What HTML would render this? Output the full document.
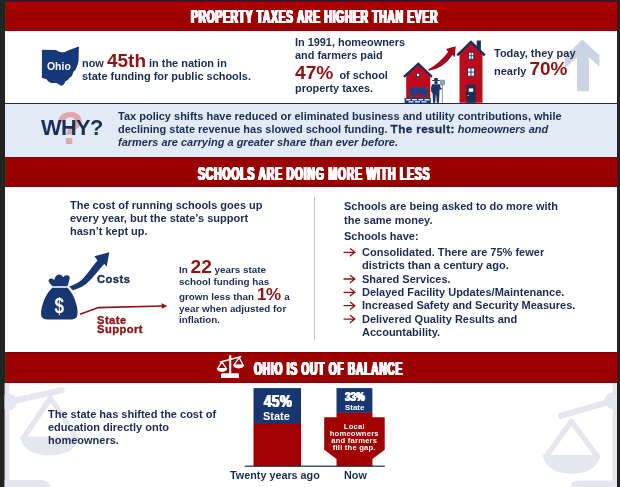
<!DOCTYPE html>
<html>
<head>
<meta charset="utf-8">
<title>Property Taxes</title>
<style>
*{margin:0;padding:0;box-sizing:border-box;}
html,body{width:620px;height:487px;overflow:hidden;background:#232323;}
body{font-family:"Liberation Sans",sans-serif;font-weight:bold;color:#1a2c52;position:relative;}
#panel{position:absolute;left:4.7px;top:1.8px;width:612.3px;height:485px;background:#fff;}
.abs{position:absolute;will-change:transform;}
.banner{position:absolute;left:4.7px;width:612.3px;background:linear-gradient(#a80000,#9a0000);}
.h{position:absolute;will-change:transform;white-space:nowrap;color:#fff;font-weight:bold;transform-origin:0 0;line-height:22px;letter-spacing:1.3px;
   text-shadow:0.5px 0 0 #fff,-0.5px 0 0 #fff,1px 0 0 #fff,-1px 0 0 #fff,1.5px 0 0 #fff,-1.5px 0 0 #fff;}
.h2{position:absolute;will-change:transform;white-space:nowrap;color:#fff;font-weight:bold;transform-origin:0 0;line-height:20px;letter-spacing:0.6px;
   text-shadow:0.4px 0 0 #fff,-0.4px 0 0 #fff,0.7px 0 0 #fff,-0.7px 0 0 #fff;}
.t{position:absolute;will-change:transform;white-space:nowrap;font-size:11px;line-height:13.4px;}
.red{color:#8c1414;}
.big{font-size:19px;}
.blk{letter-spacing:0.3px;-webkit-text-stroke:0.35px currentColor;}
</style>
</head>
<body>
<div id="panel"></div>
<svg class="abs" id="wm" style="left:0;top:0;" width="620" height="487" viewBox="0 0 620 487">
  <g fill="#e6e7ee" stroke="none">
    <!-- right pillar + base -->
    <rect x="612.6" y="383" width="4.2" height="104"/>
    <path d="M570 487 Q571.5 480.8 578 480.6 L616.8 480.6 L616.8 487 Z"/>
    <!-- left pillar + base -->
    <rect x="4.6" y="383" width="4.6" height="104"/>
    <path d="M4.6 480 L42 480 Q49 480.5 51 487 L4.6 487 Z"/>
  </g>
  <clipPath id="cp"><rect x="4.6" y="383" width="612.2" height="104"/></clipPath>
  <g clip-path="url(#cp)">
    <g stroke="#e6e7ee" fill="none" stroke-linecap="round" stroke-linejoin="round">
      <!-- right -->
      <path stroke-width="6.2" d="M561 415.8 L611 401.2"/>
      <path stroke-width="5.4" d="M571.5 421.2 L546 456.5 M571.5 421.5 L597.5 456.5"/>
      <!-- left -->
      <path stroke-width="6.2" d="M8.5 402 L61.5 390.2"/>
      <path stroke-width="5.4" d="M50.5 398 L23 438.5 M50.5 398 L77 438.5"/>
    </g>
    <g fill="#e6e7ee">
      <circle cx="612.5" cy="400.8" r="8.2"/>
      <path d="M542.5 455 L600.5 455 Q598 466 588 471 Q571.5 477 555 471 Q545 466 542.5 455 Z"/>
      <circle cx="8.5" cy="402" r="8.6"/>
      <path d="M20 436.5 L79 436.5 Q76.5 447.5 66.5 452.5 Q49.5 458.5 32.5 452.5 Q22.5 447.5 20 436.5 Z"/>
    </g>
  </g>
</svg>


<!-- ===== Section 1 ===== -->
<svg class="abs" id="art1" style="left:0;top:0;" width="620" height="487" viewBox="0 0 620 487">
  <!-- big pale up arrow -->
  <path fill="#cad4e2" d="M582.3 39.6 L599.4 55.2 L599.4 66.8 L589 57.4 L589 91.2 L577 91.2 L577 57.4 L564.6 68.5 L564.6 56.9 Z"/>
  <!-- barn -->
  <path fill="#be0a1c" d="M406.2 75.5 L418.3 64.5 L430.3 75.5 L430.3 98 L406.2 98 Z"/>
  <path fill="none" stroke="#1c2f58" stroke-width="2.2" stroke-linejoin="miter" d="M403.9 76.9 L418.3 63.8 L432 76.9"/>
  <rect x="416.6" y="73.2" width="3" height="3.4" fill="#fff" stroke="#1c2f58" stroke-width="0.8"/>
  <!-- cow -->
  <path fill="#1e3f86" d="M410 89.5 Q410 87.4 412.5 87.4 L425 87.4 Q427.4 87.4 427.4 89.5 L427.4 93 L426 97.6 L424 97.6 L423.6 94.2 L414.4 94.2 L414 97.6 L412 97.6 L410.6 94.5 L409.8 93 Z"/>
  <!-- stone base -->
  <rect x="404.6" y="98" width="26.2" height="5" fill="#22386a"/>
  <g fill="#e8ecf4">
    <rect x="406" y="99" width="4.5" height="1.4"/><rect x="412" y="99" width="5" height="1.4"/><rect x="418.5" y="99" width="4.5" height="1.4"/><rect x="424.5" y="99" width="5" height="1.4"/>
    <rect x="408.5" y="101.2" width="5" height="1.3"/><rect x="415" y="101.2" width="5" height="1.3"/><rect x="421.5" y="101.2" width="5" height="1.3"/>
  </g>
  <!-- farmer -->
  <g fill="#1d3566">
    <path d="M432.2 81 L439.7 81 L439.7 80.1 L438 79.9 L437.6 78 L434.4 78 L434 79.9 L432.2 80.1 Z"/>
    <rect x="434.3" y="81" width="3.4" height="3.2" rx="1.2"/>
    <path d="M432 84.2 L439.8 84.2 L440.8 88 L441.8 88.6 L441.8 89.8 L439.6 89.4 L439.4 93.5 L439 102.8 L436.8 102.8 L436.2 95 L435.8 95 L435.3 102.8 L433 102.8 L432.6 93.5 L431.2 91.5 L431 88 Z"/>
  </g>
  <g stroke="#6d7d9c" stroke-width="0.8" fill="none">
    <path d="M442.4 79.6 L442.4 102.8"/>
    <path d="M440.4 79.8 L440.4 84.8 L444.6 84.8 L444.6 79.8 M441.4 79.8 L441.4 84.8 M443.5 79.8 L443.5 84.8"/>
  </g>
  <!-- curved red arrow -->
  <path fill="#a00a1a" d="M428.5 69.3 Q440 63 448.2 51.8 L446 49 L455.7 46.3 L454.7 57.2 L452.4 55 Q444 68.2 428.9 70.7 Z"/>
  <!-- tall house -->
  <rect x="476.7" y="40.5" width="4.2" height="10" fill="#1c2f58"/>
  <path fill="#be0a1c" d="M459.5 53.5 L471 42.5 L482.5 53.5 L482.5 102.7 L459.5 102.7 Z"/>
  <path fill="none" stroke="#1c2f58" stroke-width="2.4" d="M457.2 55.3 L471 41.9 L484.8 55.3"/>
  <rect x="468.6" y="52.2" width="5.2" height="7" fill="#fff" stroke="#1c2f58" stroke-width="0.9"/>
  <path stroke="#1c2f58" stroke-width="0.8" d="M471.2 52.2 V59.2 M468.6 55.7 H473.8"/>
  <rect x="467.6" y="68" width="6.8" height="8.2" fill="#fff" stroke="#1c2f58" stroke-width="0.9"/>
  <path stroke="#1c2f58" stroke-width="0.9" d="M471 68 V76.2 M467.6 72.1 H474.4"/>
  <rect x="466.4" y="84.6" width="9.2" height="18.1" fill="#1c2f58"/>
  <rect x="468.8" y="88.4" width="4.4" height="3.4" fill="#fff"/>
  <circle cx="468.2" cy="95.5" r="0.6" fill="#fff"/>
</svg>

<div class="banner" style="top:1.8px;height:28.8px;background:linear-gradient(#ac0000,#9c0000 50%,#a00000 calc(100% - 1.2px),#8a0004);"></div>
<div class="h" id="h1" style="left:191.25px;top:5.9px;font-size:18.16px;transform:scaleX(0.5647);">PROPERTY TAXES ARE HIGHER THAN EVER</div>

<svg class="abs" id="ohio" style="left:40px;top:44px;" width="42" height="46" viewBox="40 44 42 46">
  <path fill="#17387a" d="M41.9 49.7 L56 50 L58.6 51.4 L61.2 52.3 L64.2 52.3 L67 51 L69.9 49.7 L74 48.2 L78.7 46.5 L78.9 47.2 L78.6 60.5 L77.9 63.6 L77 66.6 L75.5 69.7 L73.5 71.8 L72.6 74 L71.9 75.9 L69.9 77.4 L67.8 80 L65.3 81.5 L64.2 84.1 L61.2 86.1 L59.1 84.6 L56.5 83.1 L51.4 83.1 L48.3 81.5 L46.3 79 L41.9 77.9 Z"/>
  <text x="47" y="70.3" font-family="Liberation Sans" font-weight="bold" font-size="10.45" fill="#fff">Ohio</text>
</svg>

<div class="t" style="left:82.4px;top:56.7px;font-size:10.95px;">now <span class="red big" style="line-height:0;">45th</span> in the nation in</div>
<div class="t" style="left:82.4px;top:69.7px;font-size:10.95px;">state funding for public schools.</div>

<div class="t" style="left:294.8px;top:36.3px;font-size:10.9px;">In 1991, homeowners<br>and farmers paid</div>
<div class="t" style="left:294.6px;top:68.8px;font-size:10.9px;"><span class="red big" style="line-height:0;font-size:19.2px;">47%</span>&nbsp; of school</div>
<div class="t" style="left:294.8px;top:81.8px;font-size:10.9px;">property taxes.</div>

<div class="t" style="left:494px;top:46.5px;">Today, they pay</div>
<div class="t" style="left:494px;top:65px;">nearly <span class="red big" style="line-height:0;font-size:19px;">70%</span></div>

<!-- WHY -->
<div class="abs" style="left:4.7px;top:102.6px;width:612.3px;height:54.8px;background:#e1eaf5;border-top:1.6px solid #1b2b45;"></div>
<div class="abs" id="qm" style="left:56.3px;top:103.3px;font-size:46px;line-height:50px;color:#e0a6ab;font-weight:bold;">?</div>
<div class="abs" id="why" style="left:41.4px;top:115.4px;font-size:21.8px;line-height:26px;letter-spacing:-0.6px;color:#1a2f58;">WHY?</div>
<div class="t" style="left:117.6px;top:110.2px;line-height:13.1px;">Tax policy shifts have reduced or eliminated business and utility contributions, while<br>declining state revenue has slowed school funding. <span class="blk" style="font-size:11.7px;letter-spacing:0.4px;line-height:0;">The result:</span> <i>homeowners and<br>farmers are carrying a greater share than ever before.</i></div>

<!-- ===== Section 2 ===== -->
<div class="banner" style="top:157.2px;height:29.6px;background:linear-gradient(#6e0a14 0,#9a0000 1.6px,#980000 calc(100% - 1.6px),#740008 100%);"></div>
<div class="h" id="h2" style="left:198.4px;top:162.5px;font-size:18.30px;transform:scaleX(0.5743);">SCHOOLS ARE DOING MORE WITH LESS</div>


<svg class="abs" id="art2" style="left:0;top:0;" width="620" height="487" viewBox="0 0 620 487">
  <!-- money bag -->
  <path fill="#18366f" d="M52.6 286.2 Q49.6 283.6 48.4 281 Q48.8 278.4 51.4 278.6 Q53.2 278.9 54.4 280 Q54.8 275.4 58.6 274.4 Q62 274.2 63 277.2 Q64.8 274.8 67.4 275.2 Q70.2 276 69.6 278.6 Q68.8 282.8 67.4 286.2 Z"/>
  <path fill="#18366f" d="M52.4 287.8 L67.4 287.8 Q72.8 292.6 75.8 302.5 Q78.4 311 77.2 316 Q76 319.4 71 319.6 L47.6 319.6 Q42.4 319.4 41.3 316 Q40.2 311 43.4 302 Q46.6 293 52.4 287.8 Z"/>
  <text transform="translate(59.4 312.6) scale(0.93 1.22)" x="0" y="0" text-anchor="middle" font-family="Liberation Sans" font-weight="bold" font-size="18.5" fill="#fff">$</text>
  <!-- navy costs arrow -->
  <path fill="#18366f" d="M69.2 286.6 C74 284.6 78 283 81 280.4 C86 276 91 268 97.5 260.4 L94.4 256.3 L109.3 252.2 L106.7 266.6 L104.2 264 C97 272 90 281.5 84.6 285 C81 287.4 77 288.8 72.8 290.2 Z"/>
  <!-- red state support arrow -->
  <path fill="none" stroke="#8c1414" stroke-width="1.6" stroke-linejoin="round" d="M80 314.2 L98.4 307.6 L163 306"/>
  <path fill="#8c1414" d="M161.6 303.2 L167.4 305.9 L161.8 308.8 Z"/>
  <!-- bullet arrows -->
  <g stroke="#8c1414" stroke-width="1.3" fill="none" stroke-linecap="round" stroke-linejoin="round" id="barr">
    <path d="M344 252.3 H354.8 M350.4 248.80 L354.9 252.3 L350.4 255.80"/>
    <path d="M344 279.0 H354.8 M350.4 275.50 L354.9 279.0 L350.4 282.50"/>
    <path d="M344 292.35 H354.8 M350.4 288.85 L354.9 292.35 L350.4 295.85"/>
    <path d="M344 305.7 H354.8 M350.4 302.20 L354.9 305.7 L350.4 309.20"/>
    <path d="M344 319.05 H354.8 M350.4 315.55 L354.9 319.05 L350.4 322.55"/>
  </g>
</svg>
<div class="t blk" style="left:97.2px;top:273.4px;font-size:11.2px;letter-spacing:0.45px;color:#1a2d55;">Costs</div>
<div class="t blk red" style="left:97.2px;top:315.8px;font-size:11.2px;letter-spacing:0.45px;line-height:9px;">State<br>Support</div>
<div class="t" id="mid" style="left:179.3px;top:263.8px;font-size:9.85px;line-height:11.9px;">In <span class="red" style="font-size:19.2px;line-height:0;">22</span> years state<br>school funding has</div>
<div class="t" id="mid2" style="left:179.3px;top:291.4px;font-size:9.85px;line-height:11.6px;">grown less than <span class="red" style="font-size:17px;line-height:0;letter-spacing:-0.5px;margin-left:0.4px;margin-right:0.8px;">1%</span> a<br>year when adjusted for<br>inflation.</div>
<div class="abs" style="left:314.3px;top:196.7px;width:1px;height:143.3px;background:#c9cbd1;"></div>

<div class="t" style="left:70.4px;top:199.3px;line-height:13.2px;">The cost of running schools goes up<br>every year, but the state’s support<br>hasn’t kept up.</div>

<div class="t" style="left:343.5px;top:199.8px;line-height:13.5px;">Schools are being asked to do more with<br>the same money.</div>
<div class="t" style="left:343.5px;top:230.1px;">Schools have:</div>
<div class="t" id="bul" style="left:362px;top:246.3px;line-height:13.35px;">Consolidated. There are 75% fewer<br>districts than a century ago.<br>Shared Services.<br>Delayed Facility Updates/Maintenance.<br>Increased Safety and Security Measures.<br>Delivered Quality Results and<br>Accountability.</div>

<!-- ===== Section 3 ===== -->
<div class="banner" style="top:352.1px;height:30.9px;background:linear-gradient(#70060e 0,#9e0000 1.6px,#9a0000 calc(100% - 1.6px),#740008 100%);"></div>
<div class="h" id="h3" style="left:253.74px;top:357.66px;font-size:18.30px;transform:scaleX(0.5598);">OHIO IS OUT OF BALANCE</div>


<svg class="abs" id="art3" style="left:0;top:0;" width="620" height="487" viewBox="0 0 620 487">
  <!-- scales icon in heading -->
  <g stroke="#fff" fill="none" stroke-linecap="round" stroke-linejoin="round">
    <path stroke-width="2.1" d="M230.2 356 V374"/>
    <path stroke-width="1.6" d="M220.4 361.9 L240.6 356.7"/>
    <path stroke-width="1.25" d="M221.9 361.9 L217.6 368.6 H226.4 Z"/>
    <path stroke-width="1.25" d="M239.1 357.6 L234 365.2 H243.2 Z"/>
  </g>
  <g fill="#fff">
    <path d="M228.6 358.4 L230.2 356.6 L231.8 358.4 L230.2 360.4 Z"/>
    <path d="M216.6 368.2 H227.4 Q226.8 371.6 222 371.9 Q217.2 371.6 216.6 368.2 Z"/>
    <path d="M233 364.8 H244.2 Q243.6 368.2 238.6 368.5 Q233.6 368.2 233 364.8 Z"/>
    <path d="M221 377.9 V374.6 Q221 373.3 222.4 373.3 H237.6 Q239 373.3 239 374.6 V377.9 Z"/>
  </g>
  <!-- bar 1 -->
  <rect x="253.5" y="388.1" width="47.5" height="36" fill="#18366f"/>
  <rect x="253.5" y="424" width="47.5" height="42.2" fill="#a00000"/>
  <!-- bar 2 -->
  <rect x="336.5" y="388.1" width="35.9" height="24.8" fill="#18366f"/>
  <path fill="#a00000" d="M336.5 412.8 H372.4 V417.2 H384.7 V449.7 L372.4 459 V466.2 H336.5 V459 L324.2 449.7 V417.2 H336.5 Z"/>
  <!-- axis -->
  <rect x="244.8" y="465.6" width="140" height="1.2" fill="#1b2b45"/>
</svg>
<div class="h2" id="p45" style="left:263.7px;top:392.2px;font-size:16.8px;transform:scaleX(0.80);">45%</div>
<div class="t" style="left:263.2px;top:409.6px;color:#fff;">State</div>
<div class="h2" id="p33" style="left:345.2px;top:387.2px;font-size:12.3px;letter-spacing:0.3px;transform:scaleX(0.78);">33%</div>
<div class="t" style="left:344.6px;top:401.2px;color:#fff;font-size:7.9px;">State</div>
<div class="t" style="left:324.2px;top:422.9px;width:60.5px;text-align:center;color:#fff;font-size:7.6px;line-height:7px;letter-spacing:0.22px;">Local<br>homeowners<br>and farmers<br>fill the gap.</div>
<div class="t" style="left:48.4px;top:407.5px;line-height:13px;">The state has shifted the cost of<br>education directly onto<br>homeowners.</div>

<div class="t" style="left:230.2px;top:469px;font-size:10.8px;">Twenty years ago</div>
<div class="t" style="left:343.5px;top:468.6px;font-size:10.8px;">Now</div>

</body>
</html>
